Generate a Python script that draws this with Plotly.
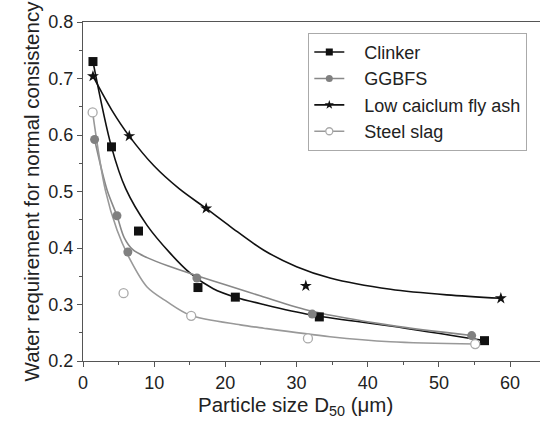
import plotly.graph_objects as go

clinker_x = [1.4, 4.0, 7.8, 16.15, 21.4, 33.2, 56.4]
clinker_y = [0.730, 0.579, 0.430, 0.330, 0.313, 0.278, 0.236]
ggbfs_x = [1.63, 4.77, 6.3, 16.0, 32.2, 54.6]
ggbfs_y = [0.592, 0.457, 0.393, 0.347, 0.283, 0.245]
flyash_x = [1.4, 6.5, 17.3, 31.3, 58.7]
flyash_y = [0.704, 0.598, 0.470, 0.333, 0.311]
slag_x = [1.35, 5.7, 15.2, 31.6, 55.1]
slag_y = [0.640, 0.320, 0.280, 0.240, 0.230]

# Fitted curves
clinker_fit_x = [1.4, 4.0, 6.0, 9.0, 12.3, 15.1, 18.3, 21.4, 25.4, 31.9, 43.2, 56.4]
clinker_fit_y = [0.730, 0.579, 0.505, 0.440, 0.390, 0.355, 0.328, 0.313, 0.300, 0.282, 0.262, 0.236]
ggbfs_fit_x = [1.63, 3.37, 4.77, 5.8, 7.0, 9.0, 12.0, 16.0, 20.0, 25.0, 32.2, 43.2, 54.6]
ggbfs_fit_y = [0.592, 0.503, 0.457, 0.418, 0.397, 0.383, 0.368, 0.351, 0.335, 0.315, 0.288, 0.263, 0.245]
flyash_fit_x = [1.4, 4.0, 6.5, 10.0, 13.5, 17.3, 20.7, 25.4, 30.0, 34.7, 43.2, 51.1, 58.7]
flyash_fit_y = [0.704, 0.645, 0.598, 0.545, 0.505, 0.470, 0.438, 0.396, 0.367, 0.347, 0.327, 0.317, 0.311]
slag_fit_x = [1.35, 3.13, 4.78, 6.64, 9.0, 11.8, 15.07, 22.1, 25.4, 34.7, 43.2, 55.1]
slag_fit_y = [0.640, 0.503, 0.432, 0.379, 0.331, 0.305, 0.281, 0.264, 0.258, 0.243, 0.234, 0.230]

x_title = "Particle size D<sub>50</sub> (μm)"
y_title = "Water requirement for normal consistency"

series = [
    ("Clinker", clinker_x, clinker_y, clinker_fit_x, clinker_fit_y,
     dict(symbol="square", size=9, color="#111111", line=dict(width=0)), "#111111"),
    ("GGBFS", ggbfs_x, ggbfs_y, ggbfs_fit_x, ggbfs_fit_y,
     dict(symbol="circle", size=9, color="#808080", line=dict(width=0)), "#888888"),
    ("Low caiclum fly ash", flyash_x, flyash_y, flyash_fit_x, flyash_fit_y,
     dict(symbol="star", size=9, color="#111111", line=dict(width=0)), "#111111"),
    ("Steel slag", slag_x, slag_y, slag_fit_x, slag_fit_y,
     dict(symbol="circle", size=9, color="white", line=dict(width=1.3, color="#aaaaaa")), "#999999"),
]

fig = go.Figure()
for name, x, y, fx, fy, mk, lc in series:
    fig.add_trace(go.Scatter(x=fx, y=fy, mode="lines",
                             line=dict(color=lc, width=1.6, shape="spline", smoothing=0.9),
                             showlegend=False, hoverinfo="skip"))
for name, x, y, fx, fy, mk, lc in series:
    fig.add_trace(go.Scatter(x=x, y=y, mode="markers", marker=mk, showlegend=False))
for name, x, y, fx, fy, mk, lc in series:
    lm = dict(mk)
    lm["size"] = 7
    fig.add_trace(go.Scatter(x=[None], y=[None], mode="lines+markers", name="\u00a0\u00a0\u00a0" + name,
                             marker=lm, line=dict(color=lc, width=1.6)))

font = "Liberation Sans, Arial, sans-serif"
fig.update_layout(
    width=541, height=421,
    margin=dict(l=83, r=1, t=22, b=60),
    plot_bgcolor="white", paper_bgcolor="white",
    font=dict(family=font, size=18, color="#222222"),
    showlegend=True,
    legend=dict(x=0.493, y=0.968, xanchor="left", yanchor="top",
                bordercolor="#aaaaaa", borderwidth=1, bgcolor="white",
                font=dict(size=18, color="#222222"), tracegroupgap=0),
    xaxis=dict(range=[0, 64.2], tickmode="array", tickvals=[0, 10, 20, 30, 40, 50, 60],
               ticks="outside", ticklen=5, tickcolor="#555555", showgrid=False, zeroline=False,
               showline=True, linecolor="#555555", linewidth=1, mirror=True,
               minor=dict(ticks="outside", ticklen=3, dtick=5, tickcolor="#555555")),
    yaxis=dict(range=[0.2, 0.8], tickmode="array", tickvals=[0.2, 0.3, 0.4, 0.5, 0.6, 0.7, 0.8],
               ticktext=["0.2", "0.3", "0.4", "0.5", "0.6", "0.7", "0.8"],
               ticks="outside", ticklen=5, tickcolor="#555555", showgrid=False, zeroline=False,
               showline=True, linecolor="#555555", linewidth=1,
               minor=dict(ticks="outside", ticklen=3, dtick=0.05, tickcolor="#555555"),
               title=dict(text=y_title, font=dict(size=20.5), standoff=3)),
    annotations=[dict(text=x_title, xref="paper", yref="paper", x=0.466, y=-0.134,
                      xanchor="center", yanchor="middle", showarrow=False,
                      font=dict(size=20.5, color="#222222"))],
)
fig.write_html("out.html")
